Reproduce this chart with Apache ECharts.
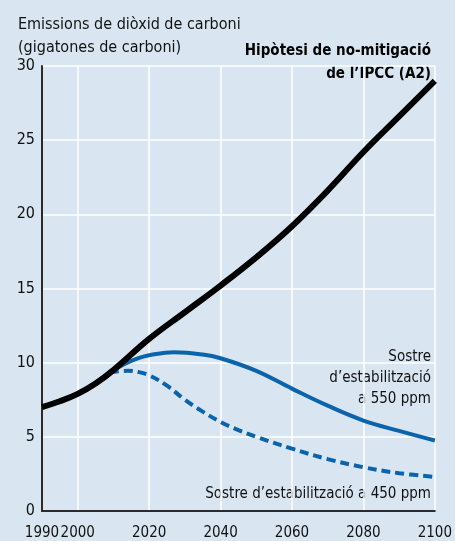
<!DOCTYPE html>
<html>
<head>
<meta charset="utf-8">
<script src="https://cdn.jsdelivr.net/npm/echarts@6/dist/echarts.min.js"></script>
<style>
html,body{margin:0;padding:0;background:#d9e6f1;}
#c{width:455px;height:541px;}
</style>
</head>
<body>
<div id="c"></div>
<script>
// ---- data ----
var a2Years = [1990,1995,2000,2005,2010,2020,2030,2040,2050,2060,2070,2080,2090,2100];
var a2Values = [7.0,7.4,7.9,8.6,9.5,11.6,13.4,15.2,17.1,19.2,21.6,24.2,26.6,29.0];

var s550Years = [2009,2013,2017,2020,2027,2035,2040,2050,2060,2070,2080,2090,2100];
var s550Values = [9.35,9.9,10.3,10.5,10.7,10.55,10.3,9.45,8.25,7.1,6.1,5.4,4.75];

var s450Years = [2009,2014,2017,2020,2025,2030,2035,2040,2045,2050,2060,2070,2080,2090,2100];
var s450Values = [9.35,9.45,9.37,9.15,8.45,7.5,6.7,6.0,5.45,5.0,4.2,3.5,2.95,2.55,2.3];

var xLabelValues = [1990,2000,2020,2040,2060,2080,2100];
var xGridValues = [2000,2020,2040,2060,2080,2100];

var titleLines = ['Emissions de diòxid de carboni','(gigatones de carboni)'];
var a2Label = ['Hipòtesi de no-mitigació','de l\u2019IPCC (A2)'];
var s550Label = ['Sostre','d\u2019estabilització','a 550 ppm'];
var s450Label = 'Sostre d\u2019estabilització a 450 ppm';

function pairs(xs, ys){ return xs.map(function(x,i){ return [x, ys[i]]; }); }

var FONT = '"Liberation Sans Narrow","DejaVu Sans Condensed",sans-serif';
var BLUE = '#0a63ab';

var chart = echarts.init(document.getElementById('c'), null, {renderer:'canvas'});
chart.setOption({
  backgroundColor: '#d9e6f1',
  animation: false,
  grid: {left:42, right:18, top:66, bottom:29, containLabel:false},
  xAxis: {
    type:'value', min:1990, max:2100,
    axisLine:{show:true, onZero:false, lineStyle:{color:'#2b2b2b', width:2}},
    axisTick:{show:false, customValues: xGridValues},
    axisLabel:{customValues: xLabelValues, color:'#111', fontSize:15, fontFamily:FONT, margin:15,
               hideOverlap:false, showMinLabel:true, showMaxLabel:true,
               formatter:function(v){ return String(v); }},
    splitLine:{show:true, lineStyle:{color:'#ffffff', width:1.5}}
  },
  yAxis: {
    type:'value', min:0, max:30, interval:5,
    axisLine:{show:true, lineStyle:{color:'#2b2b2b', width:2}},
    axisTick:{show:false},
    axisLabel:{color:'#111', fontSize:16, fontFamily:FONT, margin:7},
    splitLine:{show:true, lineStyle:{color:'#ffffff', width:1.5}}
  },
  series: [
    {type:'line', data:pairs(s450Years,s450Values), smooth:0.4, symbol:'none',
     lineStyle:{color:BLUE, width:4, type:[9,5]}},
    {type:'line', data:pairs(s550Years,s550Values), smooth:0.4, symbol:'none',
     lineStyle:{color:BLUE, width:4}},
    {type:'line', data:pairs(a2Years,a2Values), smooth:0.4, symbol:'none',
     lineStyle:{color:'#000', width:6}}
  ],
  graphic: [
    {type:'text', x:18, y:13, style:{text:titleLines.join('\n'), font:'16px '+FONT, fill:'#111', lineHeight:23}},
    {type:'text', x:431, y:40, style:{text:a2Label.join('\n'), font:'bold 15px '+FONT, fill:'#000', align:'right', verticalAlign:'top', lineHeight:23}},
    {type:'text', x:431, y:347, style:{text:s550Label.join('\n'), font:'15px '+FONT, fill:'#111', align:'right', verticalAlign:'top', lineHeight:21}},
    {type:'text', x:431, y:487, style:{text:s450Label, font:'15px '+FONT, fill:'#111', align:'right', verticalAlign:'top'}}
  ]
});
</script>
</body>
</html>
